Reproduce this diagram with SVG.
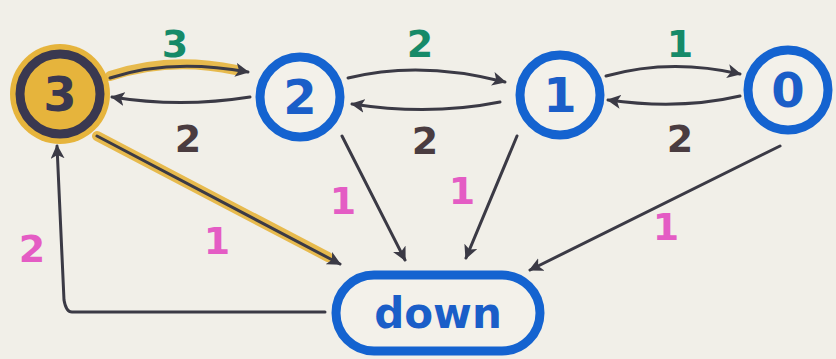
<svg xmlns="http://www.w3.org/2000/svg" width="836" height="359" viewBox="0 0 836 359">
<defs>
<marker id="ah" viewBox="0 0 10 10" refX="9" refY="5" markerWidth="14" markerHeight="14" markerUnits="userSpaceOnUse" orient="auto">
<path d="M0,0 L10,5 L0,10 L2.5,5 Z" fill="#3b3a45"/>
</marker>
<style>
.ring{fill:#f3f1ea;stroke:#1463d0;stroke-width:9}
.ntxt{font-family:"DejaVu Sans",sans-serif;font-weight:bold;font-size:48px;fill:#1a5ec8;text-anchor:middle}
.edge{fill:none;stroke:#3b3a45;stroke-width:3;stroke-linecap:round;marker-end:url(#ah)}
.hl{fill:none;stroke:#e6b43c;stroke-width:10;stroke-linecap:round;opacity:0.9}
.lbl{font-family:"DejaVu Sans",sans-serif;font-weight:bold;font-size:38px;text-anchor:middle}
.g{fill:#168a68}.d{fill:#4a3c40}.p{fill:#e45cc4}
</style>
</defs>
<rect width="836" height="359" fill="#f1efe8"/>
<g id="connectors">
<path class="hl" d="M110,76 Q170,56 236,70"/>
<path class="hl" d="M97,136 L328,257"/>
<path class="edge" d="M110,78 Q170,58 248,72"/>
<path class="edge" d="M250,97 Q180,108 112,97"/>
<path class="edge" d="M348,78 Q420,60 505,82"/>
<path class="edge" d="M500,102 Q430,116 352,104"/>
<path class="edge" d="M606,76 Q670,58 740,74"/>
<path class="edge" d="M740,96 Q680,110 608,100"/>
<path class="edge" d="M97,136 L340,264"/>
<path class="edge" d="M342,136 L405,260"/>
<path class="edge" d="M517,136 L466,258"/>
<path class="edge" d="M780,146 L530,270"/>
<path class="edge" d="M325,312 L72,312 Q66,312 64,300 L57,146"/>
</g>
<g id="labels">
<text class="lbl g" x="175" y="57">3</text>
<text class="lbl d" x="188" y="152">2</text>
<text class="lbl g" x="420" y="57">2</text>
<text class="lbl d" x="425" y="154">2</text>
<text class="lbl g" x="680" y="57">1</text>
<text class="lbl d" x="680" y="152">2</text>
<text class="lbl p" x="217" y="254">1</text>
<text class="lbl p" x="343" y="214">1</text>
<text class="lbl p" x="462" y="204">1</text>
<text class="lbl p" x="666" y="240">1</text>
<text class="lbl p" x="32" y="262">2</text>
</g>
<g id="node3">
<circle cx="60" cy="94" r="50" fill="#e6b43c"/>
<circle cx="60" cy="94" r="40" fill="#e6b43c" stroke="#3a3850" stroke-width="9"/>
<text class="ntxt" x="60" y="111" style="fill:#3a3850">3</text>
</g>
<g id="node2">
<circle class="ring" cx="300" cy="97" r="40"/>
<text class="ntxt" x="300" y="114">2</text>
</g>
<g id="node1">
<circle class="ring" cx="560" cy="95" r="40"/>
<text class="ntxt" x="560" y="112">1</text>
</g>
<g id="node0">
<circle class="ring" cx="788" cy="90" r="40" stroke-width="10"/>
<text class="ntxt" x="788" y="107">0</text>
</g>
<g id="down">
<rect x="336" y="275" width="204" height="76" rx="38" class="ring" stroke-width="7"/>
<text class="ntxt" x="438" y="328" style="font-size:42px">down</text>
</g>
</svg>
